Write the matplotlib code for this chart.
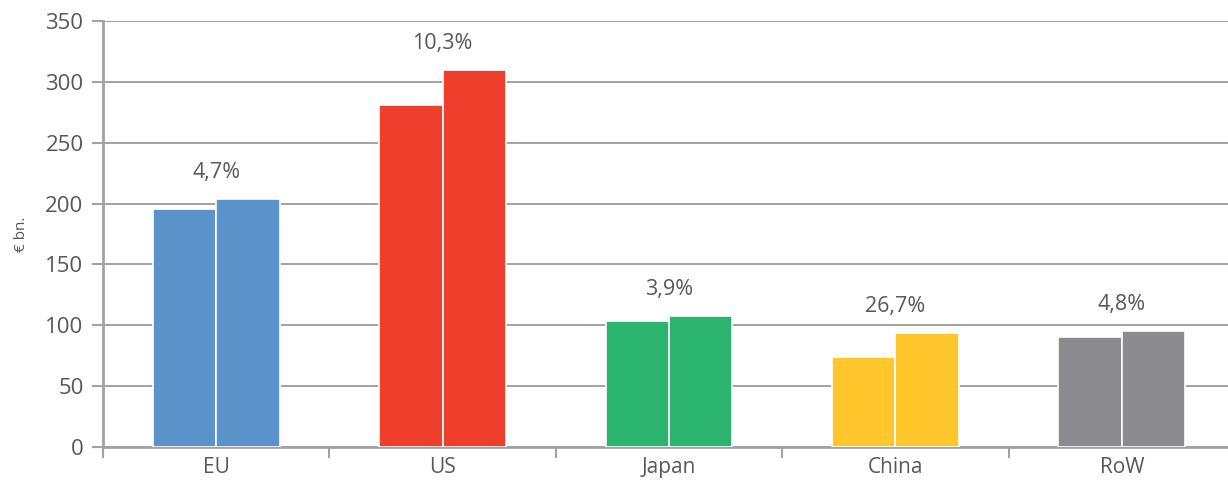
import numpy as np
import matplotlib
matplotlib.use('Agg')
import matplotlib.pyplot as plt

# ── Datos ─────────────────────────────────────────────────────────────────────
regions = ['EU', 'US', 'Japan', 'China', 'RoW']
values_prev = [195.6, 281.0, 103.5, 74.0, 90.4]
values_curr = [203.8, 309.8, 107.6, 93.7, 95.3]
growth = ['4,7%', '10,3%', '3,9%', '26,7%', '4,8%']
colors = ['#5B92C9', '#EE3E2C', '#2BB46E', '#FFC72C', '#8C8C90']

TXT = '#58585A'
GRID = '#A2A2A6'

plt.rcParams['font.family'] = ['Open Sans', 'DejaVu Sans']

fig = plt.figure(figsize=(12.28, 4.87), dpi=100)
ax = fig.add_axes([103 / 1228, 40 / 487, 1132 / 1228, 426 / 487])

x = np.arange(len(regions))
w = 0.28
for i in range(len(regions)):
    ax.bar(x[i] - w / 2, values_prev[i], width=w, color=colors[i],
           edgecolor='white', linewidth=1.2, zorder=3)
    ax.bar(x[i] + w / 2, values_curr[i], width=w, color=colors[i],
           edgecolor='white', linewidth=1.2, zorder=3)
    top = max(values_prev[i], values_curr[i])
    ax.text(x[i], top + 22, growth[i], ha='center', va='center',
            fontsize=15.5, color=TXT)

ax.set_xlim(-0.5, 4.5)
ax.set_ylim(0, 350)
ax.set_yticks(np.arange(0, 351, 50))
ax.grid(axis='y', color=GRID, lw=1.4, zorder=0)
ax.set_axisbelow(True)

ax.set_xticks(x)
ax.set_xticklabels(regions)
ax.set_xticks(np.arange(-0.5, 5, 1), minor=True)
ax.tick_params(axis='x', which='major', length=0, pad=7,
               labelsize=15, labelcolor=TXT)
ax.tick_params(axis='x', which='minor', length=8, width=1.5, color=GRID,
               direction='out')
ax.tick_params(axis='y', length=8, width=1.5, color=GRID, pad=6,
               labelsize=16, labelcolor=TXT)

for s in ['top', 'right']:
    ax.spines[s].set_visible(False)
for s in ['left', 'bottom']:
    ax.spines[s].set_color(GRID)
    ax.spines[s].set_linewidth(2)

ax.set_ylabel('€ bn.', fontsize=11, color=TXT, labelpad=12)

fig.savefig('out.png', dpi=100)
